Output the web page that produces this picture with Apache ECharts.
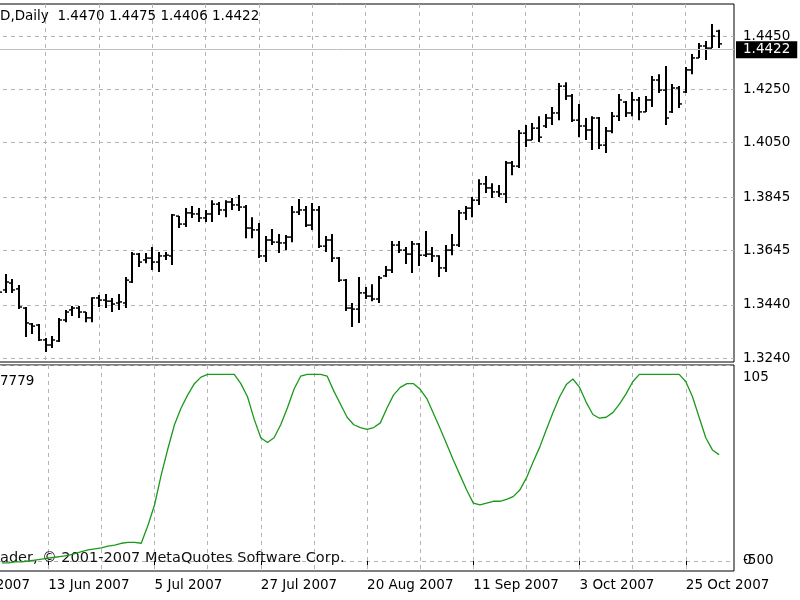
<!DOCTYPE html>
<html>
<head>
<meta charset="utf-8">
<script src="https://cdn.jsdelivr.net/npm/echarts@6/dist/echarts.min.js"></script>
<style>
  html, body { margin: 0; padding: 0; background: #fff; overflow: hidden; width: 800px; height: 600px; }
  /* the MT4 window is scrolled: the left part of the chart is off screen */
  #chart { position: absolute; left: -61px; top: 0; width: 861px; height: 600px; }
</style>
</head>
<body>
<div id="chart"></div>
<script>
// EURUSD daily bars (MT4 style) with an oscillator window underneath.
// bar index 0 = 22 May 2007, one index per trading day
const firstBar = 9;

const opens = [
  1.3496, 1.3496, 1.3522, 1.3500, 1.3428, 1.3368, 1.3364, 1.3308, 1.3289, 1.3304,
  1.3383, 1.3421, 1.3428, 1.3413, 1.3391, 1.3466, 1.3458, 1.3454, 1.3447, 1.3447,
  1.3526, 1.3631, 1.3609, 1.3616, 1.3601, 1.3624, 1.3624, 1.3774, 1.3744, 1.3786,
  1.3782, 1.3767, 1.3782, 1.3819, 1.3797, 1.3827, 1.3816, 1.3808, 1.3729, 1.3722,
  1.3624, 1.3684, 1.3676, 1.3673, 1.3695, 1.3789, 1.3797, 1.3740, 1.3797, 1.3661,
  1.3684, 1.3616, 1.3533, 1.3428, 1.3424, 1.3485, 1.3473, 1.3462, 1.3549, 1.3571,
  1.3665, 1.3646, 1.3631, 1.3669, 1.3627, 1.3631, 1.3624, 1.3579, 1.3646, 1.3665,
  1.3786, 1.3804, 1.3834, 1.3895, 1.3880, 1.3865, 1.3857, 1.3974, 1.3962, 1.4086,
  1.4060, 1.4105, 1.4113, 1.4143, 1.4162, 1.4263, 1.4226, 1.4135, 1.4113, 1.4098,
  1.4143, 1.4041, 1.4094, 1.4150, 1.4203, 1.4162, 1.4211, 1.4166, 1.4211, 1.4286,
  1.4248, 1.4166, 1.4256, 1.4241, 1.4324, 1.4369, 1.4414, 1.4406, 1.4470
];
const highs = [
  1.3526, 1.3556, 1.3537, 1.3515, 1.3432, 1.3372, 1.3368, 1.3315, 1.3323, 1.3391,
  1.3421, 1.3436, 1.3436, 1.3413, 1.3469, 1.3477, 1.3481, 1.3466, 1.3481, 1.3545,
  1.3639, 1.3635, 1.3635, 1.3658, 1.3639, 1.3639, 1.3782, 1.3774, 1.3804, 1.3812,
  1.3804, 1.3797, 1.3834, 1.3827, 1.3834, 1.3842, 1.3853, 1.3816, 1.3770, 1.3748,
  1.3699, 1.3725, 1.3707, 1.3703, 1.3812, 1.3838, 1.3812, 1.3823, 1.3812, 1.3699,
  1.3707, 1.3620, 1.3537, 1.3447, 1.3545, 1.3507, 1.3518, 1.3549, 1.3586, 1.3680,
  1.3680, 1.3658, 1.3680, 1.3673, 1.3718, 1.3658, 1.3627, 1.3665, 1.3707, 1.3797,
  1.3812, 1.3846, 1.3913, 1.3925, 1.3898, 1.3891, 1.3981, 1.3981, 1.4098, 1.4117,
  1.4124, 1.4150, 1.4158, 1.4184, 1.4275, 1.4278, 1.4233, 1.4196, 1.4143, 1.4150,
  1.4147, 1.4109, 1.4166, 1.4233, 1.4207, 1.4241, 1.4222, 1.4226, 1.4301, 1.4308,
  1.4339, 1.4271, 1.4263, 1.4335, 1.4384, 1.4425, 1.4433, 1.4497, 1.4475
];
const lows = [
  1.3458, 1.3485, 1.3485, 1.3424, 1.3319, 1.3330, 1.3304, 1.3263, 1.3278, 1.3300,
  1.3375, 1.3398, 1.3391, 1.3375, 1.3375, 1.3432, 1.3428, 1.3413, 1.3421, 1.3428,
  1.3522, 1.3582, 1.3597, 1.3571, 1.3564, 1.3609, 1.3590, 1.3729, 1.3733, 1.3767,
  1.3752, 1.3752, 1.3752, 1.3778, 1.3770, 1.3797, 1.3793, 1.3691, 1.3691, 1.3616,
  1.3601, 1.3665, 1.3635, 1.3646, 1.3676, 1.3778, 1.3733, 1.3722, 1.3654, 1.3639,
  1.3601, 1.3526, 1.3417, 1.3357, 1.3372, 1.3462, 1.3454, 1.3447, 1.3545, 1.3560,
  1.3635, 1.3594, 1.3560, 1.3586, 1.3620, 1.3601, 1.3545, 1.3564, 1.3627, 1.3658,
  1.3759, 1.3770, 1.3816, 1.3861, 1.3842, 1.3846, 1.3823, 1.3928, 1.3955, 1.4034,
  1.4060, 1.4053, 1.4105, 1.4117, 1.4135, 1.4211, 1.4128, 1.4071, 1.4060, 1.4023,
  1.4026, 1.4011, 1.4086, 1.4132, 1.4147, 1.4150, 1.4135, 1.4166, 1.4184, 1.4237,
  1.4117, 1.4162, 1.4181, 1.4237, 1.4308, 1.4369, 1.4361, 1.4406, 1.4406
];
const closes = [
  1.3488, 1.3526, 1.3496, 1.3432, 1.3372, 1.3360, 1.3308, 1.3289, 1.3308, 1.3383,
  1.3413, 1.3428, 1.3413, 1.3391, 1.3466, 1.3458, 1.3454, 1.3443, 1.3451, 1.3533,
  1.3631, 1.3601, 1.3616, 1.3601, 1.3624, 1.3627, 1.3778, 1.3744, 1.3786, 1.3782,
  1.3767, 1.3782, 1.3819, 1.3797, 1.3827, 1.3816, 1.3808, 1.3729, 1.3722, 1.3624,
  1.3684, 1.3676, 1.3673, 1.3695, 1.3789, 1.3797, 1.3740, 1.3797, 1.3661, 1.3684,
  1.3616, 1.3533, 1.3428, 1.3424, 1.3485, 1.3473, 1.3462, 1.3541, 1.3571, 1.3665,
  1.3646, 1.3631, 1.3669, 1.3627, 1.3631, 1.3624, 1.3579, 1.3646, 1.3665, 1.3786,
  1.3804, 1.3834, 1.3895, 1.3880, 1.3865, 1.3857, 1.3974, 1.3962, 1.4086, 1.4060,
  1.4105, 1.4071, 1.4143, 1.4162, 1.4263, 1.4226, 1.4135, 1.4113, 1.4098, 1.4143,
  1.4041, 1.4094, 1.4150, 1.4211, 1.4162, 1.4211, 1.4166, 1.4211, 1.4286, 1.4248,
  1.4143, 1.4256, 1.4196, 1.4324, 1.4369, 1.4414, 1.4406, 1.4451, 1.4422
];
// oscillator, same bars
const oscValues = [
  -1, -1, -0.5, -0.5, 0, 0.5, 1, 1.5, 2, 2.5,
  3, 4, 5, 6, 6.5, 7, 8, 8.5, 9.5, 10,
  10, 9.5, 19, 30, 46, 60, 73, 82, 89, 95,
  98.5, 100, 100, 100, 100, 100, 95, 88, 76, 66,
  63.5, 66, 73, 82, 92, 99, 100, 100, 100, 99,
  91, 84, 77, 73, 71.5, 70.5, 71.5, 74, 82, 89,
  93, 95, 95, 92, 87, 79, 71, 62.5, 54, 46,
  38, 31, 30, 31, 32, 32, 33, 34.5, 38, 44.5,
  53, 61, 70.5, 79.5, 88, 94.5, 97.5, 93, 85, 78.5,
  76.5, 77, 79.5, 84, 89.5, 96, 100, 100, 100, 100,
  100, 100, 100, 96, 88, 77, 66, 59.5, 57
];

const dateLabels = ['22 May 2007', '13 Jun 2007', '5 Jul 2007', '27 Jul 2007',
  '20 Aug 2007', '11 Sep 2007', '3 Oct 2007', '25 Oct 2007'];
const labelStep = 16;
const priceTicks = ['1.3240', '1.3440', '1.3645', '1.3845', '1.4050', '1.4250', '1.4450'];
const oscTop = '105';
const oscZero = '0';
const oscLow = '-500';
const lastPrice = '1.4422';

const headerText = 'EURUSD,Daily  1.4470 1.4475 1.4406 1.4422';
const copyText = 'MetaTrader, \u00a9 2001-2007 MetaQuotes Software Corp.';
const oscText = '7779';

const FONT = 'DejaVu Sans';
const FSIZE = 13.5;
const COPY_SIZE = 14.5;
const scrollX = 61;   // pixels of the window hidden on the left

// header and copyright are cut by the left edge of the window
const ctx = document.createElement('canvas').getContext('2d');
ctx.font = FSIZE + 'px "' + FONT + '"';
const headShift = ctx.measureText('EURUS').width;
ctx.font = COPY_SIZE + 'px "' + FONT + '"';
const copyShift = ctx.measureText('MetaTr').width;

const barData = opens.map((o, k) => [firstBar + k, o, highs[k], lows[k], closes[k]]);
const oscData = oscValues.map((v, k) => [firstBar + k, v]);
const tickVals = priceTicks.map(Number);
const labelIdx = dateLabels.map((d, k) => k * labelStep);

const grid = { lineStyle: { type: [4, 4], color: '#b4b4b4', width: 1 } };
const txt = { color: '#000', fontSize: FSIZE, fontFamily: FONT };
const font = FSIZE + 'px "' + FONT + '"';

function xBase(gi) {
  return {
    type: 'value', gridIndex: gi, min: 0, max: 119.25, interval: 8,
    axisLine: { show: false }, axisTick: { show: false }, axisLabel: { show: false },
    splitLine: Object.assign({ show: true, showMaxLine: false }, grid)
  };
}

const chart = echarts.init(document.getElementById('chart'));
chart.setOption({
  animation: false,
  backgroundColor: '#fff',
  grid: [
    { left: 0, right: 66, top: 4, height: 358, show: true, borderColor: '#000', borderWidth: 1 },
    { left: 0, right: 66, top: 365, height: 206, show: true, borderColor: '#000', borderWidth: 1 }
  ],
  xAxis: [
    xBase(0),
    xBase(1),
    {
      type: 'value', gridIndex: 1, position: 'bottom', min: 0, max: 119.25,
      axisLine: { show: false },
      axisTick: { show: true, length: 4, customValues: labelIdx, lineStyle: { color: '#000' } },
      axisLabel: Object.assign({ customValues: labelIdx, align: 'left', margin: 7,
        formatter: v => dateLabels[Math.round(v / labelStep)] }, txt),
      splitLine: { show: false }
    }
  ],
  yAxis: [
    {
      type: 'value', gridIndex: 0, position: 'right', min: 1.3225, max: 1.4572,
      axisLine: { show: false },
      axisTick: { show: true, length: 4, customValues: tickVals, lineStyle: { color: '#000' } },
      axisLabel: Object.assign({ customValues: tickVals, margin: 9, formatter: v => v.toFixed(4) }, txt),
      splitLine: Object.assign({ show: true }, grid)
    },
    {
      type: 'value', gridIndex: 1, position: 'right', min: -5.36, max: 105,
      axisLine: { show: false },
      axisTick: { show: true, length: 4, customValues: [0, 105], lineStyle: { color: '#000' } },
      axisLabel: Object.assign({ customValues: [105], margin: 9, verticalAlign: 'top',
        padding: [5, 0, 0, 0], formatter: () => oscTop }, txt),
      splitLine: Object.assign({ show: true }, grid)
    },
    {
      type: 'value', gridIndex: 1, position: 'right', min: -5.36, max: 105,
      axisLine: { show: false }, axisTick: { show: false }, splitLine: { show: false },
      axisLabel: Object.assign({ customValues: [0], margin: 9, formatter: () => oscZero }, txt)
    },
    {
      type: 'value', gridIndex: 1, position: 'right', min: -5.36, max: 105,
      axisLine: { show: false }, axisTick: { show: false }, splitLine: { show: false },
      axisLabel: Object.assign({ customValues: [0], margin: 9, formatter: () => oscLow }, txt)
    }
  ],
  graphic: [
    { type: 'text', x: scrollX - headShift, y: 16, z: 1,
      style: { text: headerText, fill: '#000', font: font, verticalAlign: 'middle' } },
    { type: 'text', x: scrollX, y: 381, z: 1,
      style: { text: oscText, fill: '#000', font: font, verticalAlign: 'middle' } },
    { type: 'text', x: scrollX - copyShift, y: 558, z: 1,
      style: { text: copyText, fill: '#111', font: COPY_SIZE + 'px "' + FONT + '"', verticalAlign: 'middle' } }
  ],
  series: [
    {
      type: 'custom', xAxisIndex: 0, yAxisIndex: 0, data: barData,
      encode: { x: 0, y: [1, 2, 3, 4] },
      renderItem: function (params, api) {
        const i = api.value(0);
        const hi = api.coord([i, api.value(2)]);
        const lo = api.coord([i, api.value(3)]);
        const op = api.coord([i, api.value(1)]);
        const cl = api.coord([i, api.value(4)]);
        const x = Math.round(hi[0]);
        return {
          type: 'group',
          children: [
            { type: 'line', shape: { x1: x, y1: hi[1], x2: x, y2: lo[1] }, style: { stroke: '#000', lineWidth: 2 } },
            { type: 'line', shape: { x1: x - 3, y1: op[1], x2: x, y2: op[1] }, style: { stroke: '#000', lineWidth: 1.5 } },
            { type: 'line', shape: { x1: x, y1: cl[1], x2: x + 3, y2: cl[1] }, style: { stroke: '#000', lineWidth: 1.5 } }
          ]
        };
      }
    },
    {
      type: 'line', xAxisIndex: 0, yAxisIndex: 0, data: [],
      markLine: {
        silent: true, symbol: 'none',
        lineStyle: { color: '#c0c0c0', type: 'solid', width: 1 },
        label: { show: true, position: 'end', distance: 2, formatter: lastPrice,
          color: '#fff', backgroundColor: '#000', padding: [2, 7, 1, 7], fontSize: FSIZE, fontFamily: FONT },
        data: [{ yAxis: Number(lastPrice) }]
      }
    },
    {
      type: 'line', xAxisIndex: 1, yAxisIndex: 1, data: oscData,
      showSymbol: false, symbol: 'none',
      lineStyle: { color: '#1a9a1a', width: 1.3 }
    }
  ]
});
</script>
</body>
</html>
